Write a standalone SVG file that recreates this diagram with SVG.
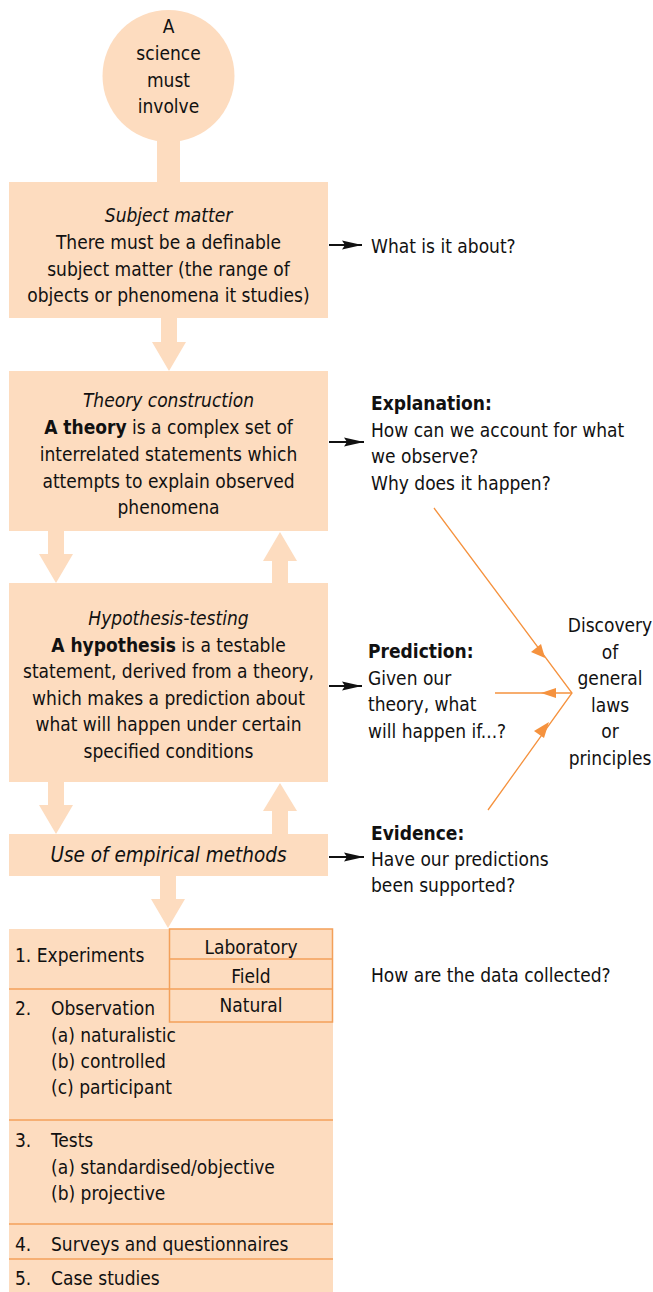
<svg xmlns="http://www.w3.org/2000/svg" width="653" height="1292" viewBox="0 0 653 1292">
<defs>
<style>
.f{fill:#fddcbf}
.t{font-family:"Liberation Sans Narrow","DejaVu Sans Condensed","Liberation Sans",sans-serif;font-size:19px;fill:#111}
.c{text-anchor:middle}
.i{font-style:italic}
.b{font-weight:bold}
.ln{stroke:#f3a05a;stroke-width:1.5;fill:none}
.bk{stroke:#111;stroke-width:2;fill:none}
.or{stroke:#f5923e;stroke-width:1.3;fill:none}
.oh{fill:#f5923e}
</style>
<marker id="ah" markerWidth="21" markerHeight="10" refX="20" refY="5" orient="auto" markerUnits="userSpaceOnUse"><path d="M0,0.5 L20,5 L0,9.5 L3,5 Z" fill="#111"/></marker>
</defs>
<rect width="653" height="1292" fill="#fff"/>

<g id="start">
<rect class="f" x="157" y="125" width="23" height="58"/>
<circle class="f" cx="168.5" cy="76" r="66"/>
<text class="t c" x="168.5" y="33">A</text>
<text class="t c" x="168.5" y="60">science</text>
<text class="t c" x="168.5" y="87">must</text>
<text class="t c" x="168.5" y="113">involve</text>
</g>

<g id="subject">
<rect class="f" x="9" y="182" width="319" height="136"/>
<text class="t c i" x="168.5" y="222">Subject matter</text>
<text class="t c" x="168.5" y="249">There must be a definable</text>
<text class="t c" x="168.5" y="276">subject matter (the range of</text>
<text class="t c" x="168.5" y="302">objects or phenomena it studies)</text>
</g>

<g id="theory">
<rect class="f" x="9" y="371" width="319" height="160"/>
<text class="t c i" x="168.5" y="407">Theory construction</text>
<text class="t c" x="168.5" y="434"><tspan class="b">A theory</tspan> is a complex set of</text>
<text class="t c" x="168.5" y="461">interrelated statements which</text>
<text class="t c" x="168.5" y="488">attempts to explain observed</text>
<text class="t c" x="168.5" y="514">phenomena</text>
</g>

<g id="hypothesis">
<rect class="f" x="9" y="583" width="319" height="199"/>
<text class="t c i" x="168.5" y="625">Hypothesis-testing</text>
<text class="t c" x="168.5" y="652"><tspan class="b">A hypothesis</tspan> is a testable</text>
<text class="t c" x="168.5" y="678">statement, derived from a theory,</text>
<text class="t c" x="168.5" y="705">which makes a prediction about</text>
<text class="t c" x="168.5" y="731">what will happen under certain</text>
<text class="t c" x="168.5" y="758">specified conditions</text>
</g>

<g id="empirical">
<rect class="f" x="9" y="834" width="319" height="42"/>
<text class="t c i" x="168.5" y="862" style="font-size:20.5px">Use of empirical methods</text>
</g>

<g id="methods">
<rect class="f" x="9" y="929" width="324" height="363"/>
<line class="ln" x1="9" y1="989" x2="169" y2="989"/>
<line class="ln" x1="9" y1="1120" x2="333" y2="1120"/>
<line class="ln" x1="9" y1="1224" x2="333" y2="1224"/>
<line class="ln" x1="9" y1="1259" x2="333" y2="1259"/>
<rect class="ln" x="169.5" y="929" width="163" height="93"/>
<line class="ln" x1="169.5" y1="959" x2="332.5" y2="959"/>
<line class="ln" x1="169.5" y1="989" x2="332.5" y2="989"/>
<text class="t" x="15" y="962">1. Experiments</text>
<text class="t c" x="251" y="954">Laboratory</text>
<text class="t c" x="251" y="983">Field</text>
<text class="t c" x="251" y="1012">Natural</text>
<text class="t" x="15" y="1015">2.</text>
<text class="t" x="51" y="1015">Observation</text>
<text class="t" x="51" y="1042">(a) naturalistic</text>
<text class="t" x="51" y="1068">(b) controlled</text>
<text class="t" x="51" y="1094">(c) participant</text>
<text class="t" x="15" y="1147">3.</text>
<text class="t" x="51" y="1147">Tests</text>
<text class="t" x="51" y="1174">(a) standardised/objective</text>
<text class="t" x="51" y="1200">(b) projective</text>
<text class="t" x="15" y="1251">4.</text>
<text class="t" x="51" y="1251">Surveys and questionnaires</text>
<text class="t" x="15" y="1285">5.</text>
<text class="t" x="51" y="1285">Case studies</text>
</g>

<g id="labels">
<text class="t" x="371" y="253">What is it about?</text>
<text class="t b" x="371" y="410">Explanation:</text>
<text class="t" x="371" y="437">How can we account for what</text>
<text class="t" x="371" y="463">we observe?</text>
<text class="t" x="371" y="490">Why does it happen?</text>
<text class="t b" x="368" y="658">Prediction:</text>
<text class="t" x="368" y="685">Given our</text>
<text class="t" x="368" y="711">theory, what</text>
<text class="t" x="368" y="738">will happen if...?</text>
<text class="t b" x="371" y="840">Evidence:</text>
<text class="t" x="371" y="866">Have our predictions</text>
<text class="t" x="371" y="892">been supported?</text>
<text class="t" x="371" y="982">How are the data collected?</text>
</g>

<g id="discovery">
<text class="t c" x="610" y="632">Discovery</text>
<text class="t c" x="610" y="659">of</text>
<text class="t c" x="610" y="685">general</text>
<text class="t c" x="610" y="712">laws</text>
<text class="t c" x="610" y="738">or</text>
<text class="t c" x="610" y="765">principles</text>
</g>

<g id="connectors">
<polygon class="f" points="161,318 177,318 177,342 186,342 169,371 152,342 161,342"/>
<polygon class="f" points="48,531 64,531 64,554 73,554 56,583 39,554 48,554"/>
<polygon class="f" points="272,583 288,583 288,561 297,561 280,532 263,561 272,561"/>
<polygon class="f" points="48,782 64,782 64,805 73,805 56,834 39,805 48,805"/>
<polygon class="f" points="272,834 288,834 288,811 297,811 280,783 263,811 272,811"/>
<polygon class="f" points="160,876 176,876 176,899 185,899 168,928 151,899 160,899"/>

<line class="bk" x1="329" y1="245" x2="362" y2="245" marker-end="url(#ah)"/>
<line class="bk" x1="329" y1="442" x2="364" y2="442" marker-end="url(#ah)"/>
<line class="bk" x1="329" y1="686" x2="362" y2="686" marker-end="url(#ah)"/>
<line class="bk" x1="329" y1="857" x2="364" y2="857" marker-end="url(#ah)"/>

<polyline class="or" points="434,508 572,693 488,810"/>
<line class="or" x1="495" y1="693" x2="572" y2="693"/>
<polygon class="oh" points="545,658 531,652 541,644"/>
<polygon class="oh" points="541,693 556,688 556,698"/>
<polygon class="oh" points="549,722 544,738 534,731"/>
</g>
</svg>
